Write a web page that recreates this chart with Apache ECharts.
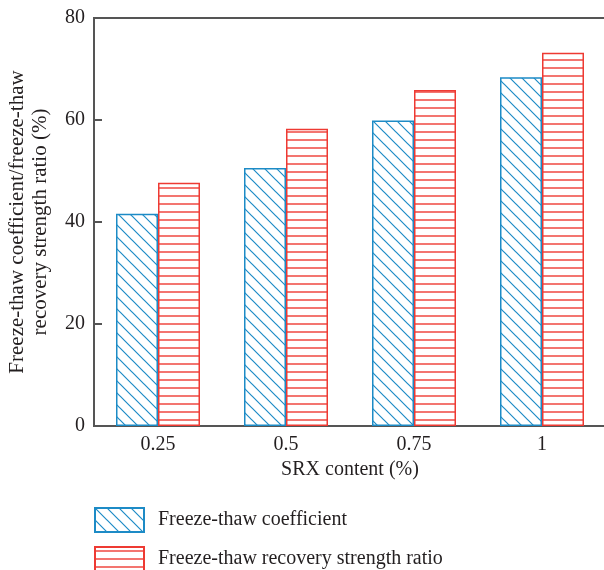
<!DOCTYPE html>
<html><head><meta charset="utf-8">
<script src="https://cdn.jsdelivr.net/npm/echarts@6/dist/echarts.min.js"></script>
<style>html,body{margin:0;padding:0;background:#fff}#c{width:604px;height:570px}</style>
</head><body><div id="c"></div>
<script>
var categories = ['0.25', '0.5', '0.75', '1'];
var seriesNames = ['Freeze-thaw coefficient', 'Freeze-thaw recovery strength ratio'];
var freezeThawCoefficient = [41.6, 50.6, 59.9, 68.4];
var recoveryStrengthRatio = [47.7, 58.3, 65.9, 73.2];
var yTicks = [0, 20, 40, 60, 80];

var BLUE = '#1d8bc6', RED = '#ee3a33';
function hatch(){
  var c = document.createElement('canvas'); c.width = 12; c.height = 12;
  var g = c.getContext('2d'); g.strokeStyle = BLUE; g.lineWidth = 1.2;
  g.beginPath(); g.moveTo(-2,-2); g.lineTo(14,14); g.moveTo(-2,10); g.lineTo(2,14); g.moveTo(10,-2); g.lineTo(14,2); g.stroke();
  return c;
}
function hlines(){
  var c = document.createElement('canvas'); c.width = 8; c.height = 8;
  var g = c.getContext('2d'); g.strokeStyle = RED; g.lineWidth = 1.4;
  g.beginPath(); g.moveTo(0,4); g.lineTo(8,4); g.stroke();
  return c;
}
var font = '"Liberation Serif", "DejaVu Serif", serif';
var txt = '#231f20';
var legendText = {fontFamily: font, fontSize: 20, color: txt, padding: [0,0,0,9]};
var chart = echarts.init(document.getElementById('c'), null, {renderer:'canvas'});
chart.setOption({
  animation: false,
  backgroundColor: '#fff',
  textStyle: {fontFamily: font, color: txt},
  grid: {left: 94, right: -2, top: 18, bottom: 144, outerBoundsMode: 'none', containLabel: false,
         show: true, borderColor: '#555', borderWidth: 2, backgroundColor: 'transparent'},
  legend: [
    {orient: 'vertical', left: 94, top: 507, padding: 0, itemWidth: 49, itemHeight: 24,
     icon: 'rect', textStyle: legendText, data: [seriesNames[0]]},
    {orient: 'vertical', left: 94, top: 546, padding: 0, itemWidth: 49, itemHeight: 24,
     icon: 'rect', textStyle: legendText, data: [seriesNames[1]]}
  ],
  xAxis: {
    type: 'category', data: categories,
    axisLine: {lineStyle: {color: '#555', width: 2}}, axisTick: {show: false},
    axisLabel: {fontFamily: font, fontSize: 20, color: txt, margin: 9},
    name: 'SRX content (%)', nameLocation: 'middle', nameGap: 34,
    nameTextStyle: {fontFamily: font, fontSize: 20, color: txt}
  },
  yAxis: {
    type: 'value', min: yTicks[0], max: yTicks[yTicks.length-1], interval: 20,
    axisLine: {show: true, lineStyle: {color: '#555', width: 2}},
    axisTick: {show: true, inside: true, length: 8, lineStyle: {color: '#555', width: 2}},
    splitLine: {show: false},
    axisLabel: {fontFamily: font, fontSize: 20, color: txt, margin: 9},
    name: 'Freeze-thaw coefficient/freeze-thaw\nrecovery strength ratio (%)',
    nameLocation: 'middle', nameGap: 42,
    nameTextStyle: {fontFamily: font, fontSize: 21, color: txt, lineHeight: 23}
  },
  series: [
    {name: seriesNames[0], type: 'bar', data: freezeThawCoefficient, barWidth: 42, barGap: '0%',
     itemStyle: {color: {image: hatch(), repeat: 'repeat'}, borderColor: BLUE, borderWidth: 1.5}},
    {name: seriesNames[1], type: 'bar', data: recoveryStrengthRatio, barWidth: 42, barGap: '0%',
     itemStyle: {color: {image: hlines(), repeat: 'repeat'}, borderColor: RED, borderWidth: 1.5}}
  ]
});
</script></body></html>
